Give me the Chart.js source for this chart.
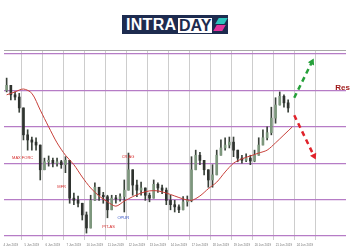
<!DOCTYPE html>
<html>
<head>
<meta charset="utf-8">
<script src="https://cdn.jsdelivr.net/npm/chart.js@4/dist/chart.umd.min.js"></script>
<style>
    html, body { margin: 0; padding: 0; background: #fff; }
    #wrap { position: relative; width: 350px; height: 250px; overflow: hidden; }
    #chart { position: absolute; left: 0; top: 0; }
    #logo {
        position: absolute; left: 122px; top: 15px; width: 106px; height: 19px;
        background: #1d2b4f; font-family: "Liberation Sans", Arial, sans-serif;
        font-weight: bold; font-size: 16px; line-height: 19px; color: #fff;
    }
    #logo .intra { position: absolute; left: 4px; top: 0; letter-spacing: 0.3px; }
    #logo .day {
        position: absolute; left: 56px; top: 3px; height: 15px; line-height: 15px;
        background: #fff; color: #1d2b4f; padding: 0 1px;
    }
    #logo .up, #logo .down { position: absolute; width: 9px; height: 6px; transform: skewX(-30deg); }
    #logo .up { left: 95px; top: 3px; background: #2cc3bd; }
    #logo .down { left: 93px; top: 10px; background: #e2349c; }
</style>
</head>
<body>
<div id="wrap">
    <canvas id="chart" width="350" height="250"></canvas>
    <div id="logo"><span class="intra">INTRA</span><span class="day">DAY</span><span class="up"></span><span class="down"></span></div>
</div>
<script>
// horizontal levels
const levels = [1.1000, 1.1050, 1.1100, 1.1150, 1.1200, 1.1250];
const dateLabels = ['4 Jun 2019', '5 Jun 2019', '6 Jun 2019', '7 Jun 2019', '10 Jun 2019', '11 Jun 2019',
    '12 Jun 2019', '13 Jun 2019', '14 Jun 2019', '17 Jun 2019', '18 Jun 2019', '19 Jun 2019',
    '20 Jun 2019', '21 Jun 2019', '24 Jun 2019'];

// candles, one every 0.2 day starting at -0.2
const firstOpen = 1.1200;
const closes = [1.1207, 1.1194, 1.1191, 1.1176, 1.1139, 1.1132, 1.1129, 1.1125, 1.1091, 1.1102,
    1.1104, 1.1100, 1.1102, 1.1098, 1.1104, 1.1052, 1.1049, 1.1045, 1.1029, 1.1011,
    1.1049, 1.1067, 1.1056, 1.1054, 1.1036, 1.1052, 1.1051, 1.1054, 1.1063, 1.1091,
    1.1070, 1.1063, 1.1066, 1.1056, 1.1052, 1.1071, 1.1066, 1.1063, 1.1049, 1.1043,
    1.1040, 1.1036, 1.1047, 1.1049, 1.1091, 1.1111, 1.1104, 1.1091, 1.1077, 1.1084,
    1.1111, 1.1121, 1.1125, 1.1129, 1.1118, 1.1107, 1.1104, 1.1107, 1.1103, 1.1111,
    1.1125, 1.1135, 1.1142, 1.1162, 1.1180, 1.1192, 1.1183, 1.1176];
const highs = [1.1217, 1.1203, 1.1198, 1.1196, 1.1173, 1.1146, 1.1136, 1.1135, 1.1121, 1.1107,
    1.1110, 1.1107, 1.1107, 1.1104, 1.1109, 1.1084, 1.1059, 1.1055, 1.1045, 1.1033,
    1.1056, 1.1073, 1.1063, 1.1060, 1.1056, 1.1056, 1.1056, 1.1058, 1.1077, 1.1114,
    1.1084, 1.1077, 1.1074, 1.1066, 1.1059, 1.1077, 1.1073, 1.1070, 1.1066, 1.1056,
    1.1049, 1.1043, 1.1054, 1.1055, 1.1109, 1.1118, 1.1115, 1.1102, 1.1091, 1.1098,
    1.1118, 1.1132, 1.1135, 1.1136, 1.1136, 1.1114, 1.1111, 1.1113, 1.1111, 1.1118,
    1.1135, 1.1146, 1.1150, 1.1177, 1.1190, 1.1198, 1.1194, 1.1187];
const lows = [1.1198, 1.1187, 1.1187, 1.1170, 1.1132, 1.1118, 1.1118, 1.1118, 1.1077, 1.1091,
    1.1096, 1.1095, 1.1096, 1.1093, 1.1087, 1.1045, 1.1043, 1.1040, 1.1022, 1.1004,
    1.1015, 1.1049, 1.1049, 1.1045, 1.1025, 1.1043, 1.1045, 1.1048, 1.1033, 1.1063,
    1.1056, 1.1054, 1.1056, 1.1049, 1.1047, 1.1056, 1.1060, 1.1058, 1.1043, 1.1036,
    1.1033, 1.1032, 1.1038, 1.1041, 1.1047, 1.1098, 1.1098, 1.1084, 1.1067, 1.1067,
    1.1091, 1.1111, 1.1118, 1.1121, 1.1109, 1.1102, 1.1100, 1.1102, 1.1098, 1.1102,
    1.1111, 1.1125, 1.1132, 1.1139, 1.1155, 1.1184, 1.1177, 1.1170];

// moving average, one every 0.4 day starting at -0.2
const movingAvg = [1.1194, 1.1198, 1.1202, 1.1196, 1.1173, 1.1150, 1.1128, 1.1111, 1.1098, 1.1081,
    1.1066, 1.1055, 1.1047, 1.1041, 1.1048, 1.1054, 1.1059, 1.1062, 1.1062, 1.1059,
    1.1055, 1.1051, 1.1049, 1.1055, 1.1065, 1.1074, 1.1088, 1.1100, 1.1106, 1.1110,
    1.1114, 1.1118, 1.1128, 1.1139, 1.1150];

// projection arrows
const upArrowX = [13.49, 14.33];
const upArrowY = [1.1190, 1.1239];
const downArrowX = [13.49, 14.43];
const downArrowY = [1.1166, 1.1110];

// small chart notes
const noteTexts = ['MAX FORC', 'MFR', 'CR AG', 'PIT-AS', 'OPUR'];
const noteX = [0.56, 2.42, 5.58, 4.65, 5.35];
const noteY = [1.1107, 1.1067, 1.1109, 1.1012, 1.1025];
const resText = 'Resistance';
const resX = 15.44;
const resY = 1.1203;

const yMin = 1.09945, yMax = 1.12556;

const candles = closes.map((c, i) => {
    const o = i === 0 ? firstOpen : closes[i - 1];
    return {
        x: -0.2 + i * 0.2, o, c,
        hi: Math.max(highs[i], o, c), lo: Math.min(lows[i], o, c)
    };
});

const notesPlugin = {
    id: 'notes',
    afterDatasetsDraw(chart) {
        const { ctx, scales: { x, y } } = chart;
        ctx.save();
        ctx.textAlign = 'center';
        ctx.textBaseline = 'middle';
        ctx.font = '4px "Liberation Sans", Arial, sans-serif';
        noteTexts.forEach((t, i) => {
            ctx.fillStyle = t === 'OPUR' ? '#2f4fc4' : '#d42a2a';
            ctx.fillText(t, x.getPixelForValue(noteX[i]), y.getPixelForValue(noteY[i]));
        });
        ctx.textAlign = 'left';
        ctx.font = 'bold 8px "Liberation Sans", Arial, sans-serif';
        ctx.fillStyle = '#9e1616';
        ctx.fillText(resText, x.getPixelForValue(resX), y.getPixelForValue(resY));
        ctx.restore();
    }
};

new Chart(document.getElementById('chart'), {
    type: 'bar',
    data: {
        datasets: [
            {
                type: 'line', order: 0,
                data: upArrowX.map((v, i) => ({ x: v, y: upArrowY[i] })),
                borderColor: '#26a03a', borderWidth: 2.5, borderDash: [5, 4],
                pointStyle: 'triangle', pointRadius: [0, 4], pointRotation: [0, 27],
                pointBackgroundColor: '#26a03a', pointBorderWidth: 0
            },
            {
                type: 'line', order: 0,
                data: downArrowX.map((v, i) => ({ x: v, y: downArrowY[i] })),
                borderColor: '#e0222a', borderWidth: 2.5, borderDash: [5, 4],
                pointStyle: 'triangle', pointRadius: [0, 4], pointRotation: [0, 154],
                pointBackgroundColor: '#e0222a', pointBorderWidth: 0
            },
            {
                type: 'line', order: 1,
                data: movingAvg.map((v, i) => ({ x: -0.2 + i * 0.4, y: v })),
                borderColor: '#c8403a', borderWidth: 1, pointRadius: 0, tension: 0.3
            },
            {
                order: 2, grouped: false,
                data: candles.map(k => ({ x: k.x, y: [k.o, k.c] })),
                backgroundColor: candles.map(k => k.c >= k.o ? '#7d977d' : '#2f332f'),
                barThickness: 2, minBarLength: 1
            },
            {
                order: 3, grouped: false,
                data: candles.map(k => ({ x: k.x, y: [k.lo, k.hi] })),
                backgroundColor: '#3a423a', barThickness: 1
            }
        ]
    },
    options: {
        responsive: false,
        animation: false,
        layout: { padding: { top: 50, left: 0, right: 0, bottom: 0 } },
        plugins: { legend: { display: false }, tooltip: { enabled: false } },
        scales: {
            x: {
                type: 'linear', offset: false,
                min: -7 / 21.5, max: 343 / 21.5,
                afterBuildTicks: a => { a.ticks = dateLabels.map((_, i) => ({ value: i })); },
                afterFit: a => { a.height = 10; },
                grid: { color: '#cdcdcd', lineWidth: 1, drawTicks: false },
                border: { display: false },
                ticks: {
                    autoSkip: false, maxRotation: 0, padding: 3, color: '#777',
                    font: { size: 3, family: '"Liberation Sans", Arial, sans-serif' },
                    callback: v => dateLabels[v]
                }
            },
            y: {
                min: yMin, max: yMax,
                afterBuildTicks: a => { a.ticks = levels.concat([yMax]).map(v => ({ value: v })); },
                afterFit: a => { a.width = 0; },
                grid: {
                    drawTicks: false,
                    color: c => c.tick.value === yMax ? '#a8a8a8' : '#b67cc6',
                    lineWidth: c => c.tick.value === yMax ? 1 : 1.3
                },
                border: { display: false },
                ticks: { display: false }
            }
        }
    },
    plugins: [notesPlugin]
});
</script>
</body>
</html>
